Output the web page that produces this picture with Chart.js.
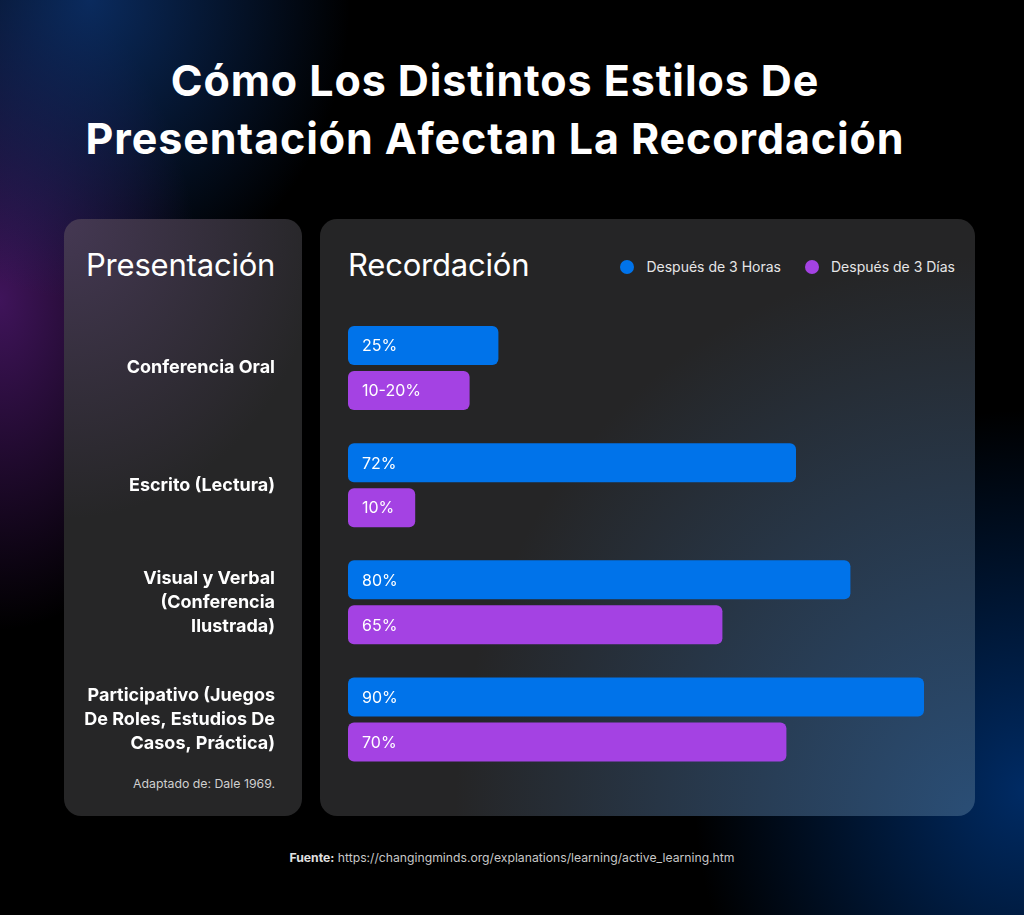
<!DOCTYPE html>
<html>
<head>
<meta charset="utf-8">
<script src="https://cdn.jsdelivr.net/npm/chart.js@4.4.1/dist/chart.umd.min.js"></script>
<style>
  html,body{margin:0;padding:0;}
  body{width:1024px;height:915px;overflow:hidden;position:relative;font-family:"Inter",sans-serif;color:#fff;
    background:
      radial-gradient(ellipse 260px 300px at 90px 0px, rgba(12,50,110,0.85), rgba(0,0,0,0) 100%),
      radial-gradient(ellipse 200px 330px at 0px 300px, rgba(70,22,100,0.9), rgba(0,0,0,0) 100%),
      radial-gradient(ellipse 330px 380px at 1024px 790px, rgba(0,45,105,0.95), rgba(0,0,0,0) 100%),
      #000;}
  #title{position:absolute;left:0;top:51px;width:990px;text-align:center;font-weight:700;font-size:43px;line-height:58px;letter-spacing:0.9px;}
  .panel{position:absolute;top:219px;height:597px;border-radius:17px;}
  #pl{left:64px;width:238px;background:
      radial-gradient(ellipse 260px 300px at 0px 0px, rgba(72,58,88,0.9), rgba(38,38,38,0) 100%), #262627;}
  #pr{left:320px;width:655px;background:
      radial-gradient(ellipse 520px 560px at 655px 597px, rgba(42,78,118,1), rgba(38,38,38,0) 100%), #252526;}
  .head{position:absolute;top:245px;font-size:31px;font-weight:400;line-height:40px;letter-spacing:-0.2px;}
  #legend{position:absolute;top:258px;right:69px;display:flex;align-items:center;font-size:14px;color:#e6e6e6;}
  #legend .it{display:flex;align-items:center;margin-left:24px;}
  #legend .dot{width:14px;height:14px;border-radius:50%;margin-right:12px;}
  #adapt{position:absolute;right:749px;top:776px;font-size:12.3px;color:#d0d0d0;}
  #foot{position:absolute;left:0;width:1024px;top:850px;text-align:center;font-size:12.2px;color:#c8c8c8;}
  canvas{position:absolute;left:0;top:0;}
</style>
</head>
<body>
<div id="title">Cómo Los Distintos Estilos De<br>Presentación Afectan La Recordación</div>
<div class="panel" id="pl"></div>
<div class="panel" id="pr"></div>
<div class="head" style="left:86px;">Presentación</div>
<div class="head" style="left:348px;">Recordación</div>
<div id="legend"></div>
<div id="adapt">Adaptado de: Dale 1969.</div>
<div id="foot"><b style="color:#e0e0e0">Fuente:</b> https://changingminds.org/explanations/learning/active_learning.htm</div>
<canvas id="c" width="1024" height="915"></canvas>
<script>
const categories = [
  ["Conferencia Oral"],
  ["Escrito (Lectura)"],
  ["Visual y Verbal", "(Conferencia", "Ilustrada)"],
  ["Participativo (Juegos", "De Roles, Estudios De", "Casos, Práctica)"]
];
const seriesNames = ["Después de 3 Horas", "Después de 3 Días"];
const hoursValues = [23.5, 70, 78.5, 90];
const daysValues = [19, 10.5, 58.5, 68.5];
const hoursLabels = ["25%", "72%", "80%", "90%"];
const daysLabels = ["10-20%", "10%", "65%", "70%"];
const colors = ["#0073EA", "#A442E3"];

const legendEl = document.getElementById('legend');
seriesNames.forEach((n, i) => {
  const it = document.createElement('div'); it.className = 'it';
  it.innerHTML = '<span class="dot" style="background:' + colors[i] + '"></span>' + n;
  legendEl.appendChild(it);
});

const barLabels = {
  id: 'barLabels',
  afterDatasetsDraw(chart) {
    const ctx = chart.ctx;
    const lbls = [hoursLabels, daysLabels];
    ctx.save();
    ctx.font = '400 16px Inter';
    ctx.fillStyle = '#ffffff';
    ctx.textBaseline = 'middle';
    ctx.textAlign = 'left';
    chart.data.datasets.forEach((ds, di) => {
      chart.getDatasetMeta(di).data.forEach((el, i) => {
        ctx.fillText(lbls[di][i], el.base + 14, el.y + 1);
      });
    });
    ctx.restore();
  }
};

new Chart(document.getElementById('c'), {
  type: 'bar',
  data: {
    labels: categories,
    datasets: [
      { label: seriesNames[0], data: hoursValues, backgroundColor: colors[0] },
      { label: seriesNames[1], data: daysValues, backgroundColor: colors[1] }
    ]
  },
  options: {
    indexAxis: 'y',
    responsive: false,
    animation: false,
    devicePixelRatio: 1,
    layout: { padding: { left: 0, right: 36, top: 309.5, bottom: 137 } },
    datasets: { bar: { categoryPercentage: 0.768, barPercentage: 0.867, borderRadius: 6, borderSkipped: false } },
    plugins: { legend: { display: false }, tooltip: { enabled: false } },
    scales: {
      x: { display: false, min: 0, max: 100 },
      y: {
        grid: { display: false, drawTicks: false },
        border: { display: false },
        ticks: { color: '#ffffff', padding: 73, font: { family: 'Inter', weight: '700', size: 18, lineHeight: 1.33 } },
        afterFit(scale) { scale.width = 348; }
      }
    }
  },
  plugins: [barLabels]
});
</script>
</body>
</html>
